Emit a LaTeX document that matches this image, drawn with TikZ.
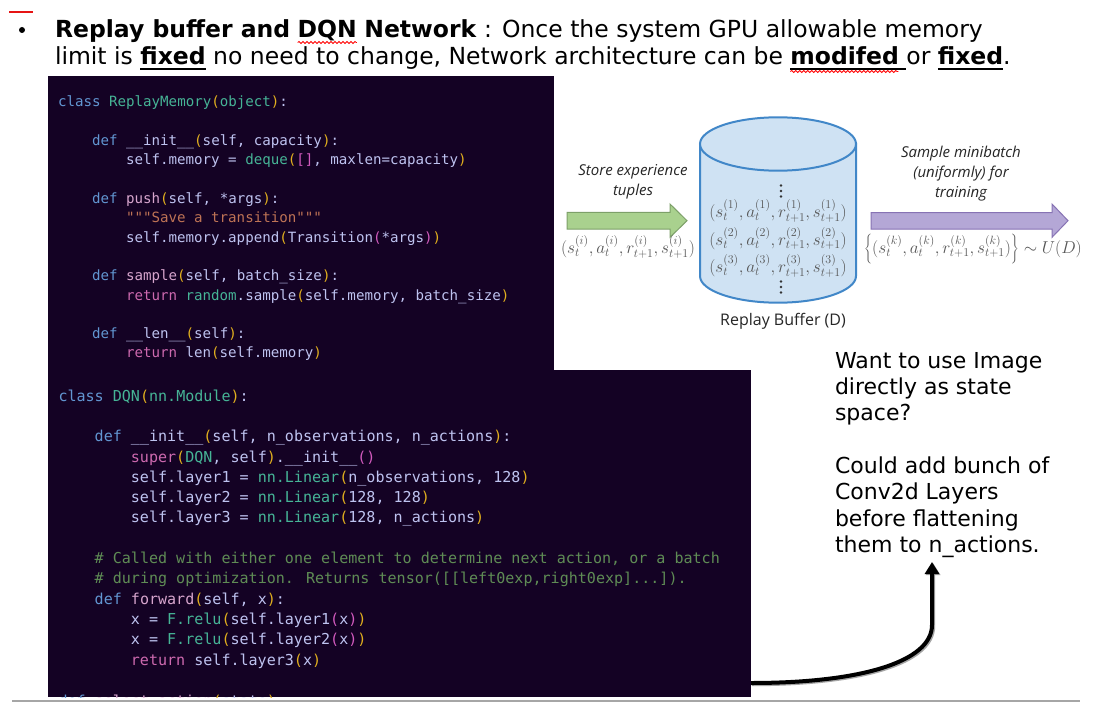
\documentclass[tikz,border=0pt]{standalone}
\usepackage{fontspec}
\setmainfont{DejaVu Sans}
\newfontfamily\codefont{DejaVu Sans Mono}
\newfontfamily\osfont{Open Sans}
\usetikzlibrary{decorations.pathmorphing,arrows.meta,calc}
\definecolor{codebg}{RGB}{20,2,36}
\definecolor{ckwc}{RGB}{98,150,210}
\definecolor{ctyc}{RGB}{70,180,150}
\definecolor{cpnc}{RGB}{225,175,30}
\definecolor{ctxc}{RGB}{190,195,240}
\definecolor{cfnc}{RGB}{215,165,205}
\definecolor{crtc}{RGB}{205,105,175}
\definecolor{cstc}{RGB}{190,115,85}
\definecolor{ccmc}{RGB}{95,140,85}
\definecolor{cbrc}{RGB}{210,90,190}
\definecolor{mathgray}{RGB}{85,85,85}
\definecolor{cylfill}{RGB}{207,226,243}
\definecolor{cylline}{RGB}{65,135,200}
\definecolor{grnfill}{RGB}{169,209,142}
\definecolor{grnline}{RGB}{125,160,105}
\definecolor{purfill}{RGB}{180,167,214}
\definecolor{purline}{RGB}{135,115,180}
\definecolor{slidered}{RGB}{230,20,20}
\newcommand\ckw[1]{\textcolor{ckwc}{#1}}
\newcommand\cty[1]{\textcolor{ctyc}{#1}}
\newcommand\cpn[1]{\textcolor{cpnc}{#1}}
\newcommand\cfn[1]{\textcolor{cfnc}{#1}}
\newcommand\crt[1]{\textcolor{crtc}{#1}}
\newcommand\cst[1]{\textcolor{cstc}{#1}}
\newcommand\ccm[1]{\textcolor{ccmc}{#1}}
\newcommand\cbr[1]{\textcolor{cbrc}{#1}}
\begin{document}
\begin{tikzpicture}[x=1bp,y=-1bp,
  hdr/.style={inner sep=0pt, outer sep=0pt, anchor=base west, font=\fontsize{23.5bp}{28bp}\selectfont},
  rtxt/.style={inner sep=0pt, outer sep=0pt, anchor=base west, font=\fontsize{22bp}{26bp}\selectfont},
  codeA/.style={inner sep=0pt, outer sep=0pt, anchor=base west, text=ctxc, font=\codefont\fontsize{14.15bp}{19bp}\selectfont},
  codeB/.style={inner sep=0pt, outer sep=0pt, anchor=base west, text=ctxc, font=\codefont\fontsize{15.05bp}{20bp}\selectfont},
  codebox/.style={fill=codebg, draw=none, inner sep=0pt, outer sep=0pt, anchor=north west},
  lbl/.style={font=\osfont\itshape\fontsize{15bp}{20bp}\selectfont, align=center, text=black!85, inner sep=0pt},
  tup/.style={text=mathgray, inner sep=0pt, font=\fontsize{16.8bp}{20bp}\selectfont},
  uline/.style={line width=2bp, black},
  spell/.style={draw=red, line width=0.8bp, decorate, decoration={snake, amplitude=1bp, segment length=4bp}},
  cyl/.style={fill=cylfill, draw=cylline, line width=2bp},
  bigarrow/.style={line width=4bp, black, -{Triangle[width=14bp,length=12bp]}},
  shadowarrow/.style={line width=4bp, black!35, -{Triangle[width=14bp,length=12bp]}},
]
\useasboundingbox (0,0) rectangle (1095,706);
\fill[white] (0,0) rectangle (1095,706);

% slide decorations
\draw[slidered, line width=2.5bp] (9,12) -- (33,12);
\node[circle, fill=black, inner sep=0pt, minimum size=6bp] (bul) at (22,30) {};
\draw[black!35, line width=1.5bp] (12,701) -- (1080,701);

% header line 1
\node[hdr] (h1a) at (55,38) {\textbf{Replay buffer and}\ \null};
\node[hdr] (h1b) at (h1a.base east) {\textbf{DQN}};
\node[hdr] (h1c) at (h1b.base east) {\null\ \textbf{Network} : Once the system GPU allowable memory};
\draw[spell] ([yshift=-4.5bp]h1b.base west) -- ([yshift=-4.5bp]h1b.base east);
% header line 2
\node[hdr] (h2a) at (55,65) {limit is\ \null};
\node[hdr] (h2b) at (h2a.base east) {\textbf{fixed}};
\node[hdr] (h2c) at (h2b.base east) {\null\ no need to change, Network architecture can be\ \null};
\node[hdr] (h2d) at (h2c.base east) {\textbf{modifed}\ \null};
\node[hdr] (h2e) at (h2d.base east) {or\ \null};
\node[hdr] (h2f) at (h2e.base east) {\textbf{fixed}};
\node[hdr] (h2g) at (h2f.base east) {.};
\draw[uline] ([yshift=-4.5bp]h2b.base west) -- ([yshift=-4.5bp]h2b.base east);
\draw[uline] ([yshift=-4.5bp]h2d.base west) -- ([yshift=-4.5bp]h2d.base east);
\draw[uline] ([yshift=-4.5bp]h2f.base west) -- ([yshift=-4.5bp]h2f.base east);
\draw[spell] ([yshift=-6.5bp]h2d.base west) -- ([yshift=-6.5bp,xshift=-8bp]h2d.base east);

% code boxes
\node[codebox, minimum width=506bp, minimum height=294bp] (rmbox) at (48,76) {};
\node[codebox, minimum width=703bp, minimum height=327bp] (dqnbox) at (48,370) {};

% ReplayMemory code
\node[codeA] (a0) at (58,107) {\ckw{class} \cty{ReplayMemory}\cpn{(}\cty{object}\cpn{)}:};
\node[codeA] (a2) at (92,145.6) {\ckw{def} \_\_init\_\_\cpn{(}self, capacity\cpn{)}:};
\node[codeA] (a3) at (126,164.9) {self.memory = \cty{deque}\cpn{(}\cbr{[]}, maxlen=capacity\cpn{)}};
\node[codeA] (a5) at (92,203.5) {\ckw{def} \cfn{push}\cpn{(}self, *args\cpn{)}:};
\node[codeA] (a6) at (126,222.8) {\cst{"""Save a transition"""}};
\node[codeA] (a7) at (126,242.1) {self.memory.append\cpn{(}Transition\cbr{(}*args\cbr{)}\cpn{)}};
\node[codeA] (a9) at (92,280.7) {\ckw{def} \cfn{sample}\cpn{(}self, batch\_size\cpn{)}:};
\node[codeA] (a10) at (126,300) {\crt{return} \cty{random}.sample\cpn{(}self.memory, batch\_size\cpn{)}};
\node[codeA] (a12) at (92,338.6) {\ckw{def} \_\_len\_\_\cpn{(}self\cpn{)}:};
\node[codeA] (a13) at (126,357.9) {\crt{return} len\cpn{(}self.memory\cpn{)}};

% DQN code
\node[codeB] (b0) at (58.5,401.5) {\ckw{class} \cty{DQN}\cpn{(}\cty{nn.Module}\cpn{)}:};
\node[codeB] (b2) at (94.7,441.7) {\ckw{def} \_\_init\_\_\cpn{(}self, n\_observations, n\_actions\cpn{)}:};
\node[codeB] (b3) at (130.9,462) {\crt{super}\cpn{(}\cty{DQN}, self\cpn{)}.\_\_init\_\_\cbr{()}};
\node[codeB] (b4) at (130.9,482.3) {self.layer1 = \cty{nn.Linear}\cpn{(}n\_observations, 128\cpn{)}};
\node[codeB] (b5) at (130.9,502.6) {self.layer2 = \cty{nn.Linear}\cpn{(}128, 128\cpn{)}};
\node[codeB] (b6) at (130.9,522.9) {self.layer3 = \cty{nn.Linear}\cpn{(}128, n\_actions\cpn{)}};
\node[codeB] (b8) at (94.7,563.5) {\ccm{\# Called with either one element to determine next action, or a batch}};
\node[codeB] (b9) at (94.7,583.8) {\ccm{\# during optimization. Returns tensor([[left0exp,right0exp]...]).}};
\node[codeB] (b10) at (94.7,604.1) {\ckw{def} \cfn{forward}\cpn{(}self, x\cpn{)}:};
\node[codeB] (b11) at (130.9,624.4) {x = \cty{F.relu}\cpn{(}self.layer1\cbr{(}x\cbr{)}\cpn{)}};
\node[codeB] (b12) at (130.9,644.7) {x = \cty{F.relu}\cpn{(}self.layer2\cbr{(}x\cbr{)}\cpn{)}};
\node[codeB] (b13) at (130.9,665) {\crt{return} self.layer3\cpn{(}x\cpn{)}};
\begin{scope}
\clip (48,370) rectangle (751,697);
\node[codeB] (b15) at (58.5,706.5) {\ckw{def} \cfn{select\_action}\cpn{(}state\cpn{)}:};
\end{scope}

% replay buffer cylinder
\path[cyl] (700,144) -- (700,276) arc[start angle=180, end angle=360, x radius=78bp, y radius=26.7bp] -- (856,144) -- cycle;
\path[cyl] (778,144) ellipse [x radius=78bp, y radius=26.7bp];
\foreach \d in {0,5.5,11} {
  \fill[black!80] (781,185.5+\d) circle (1.4bp);
  \fill[black!80] (781,281.5+\d) circle (1.4bp);
}
\node[tup] (row1) at (778,211) {$(s_t^{(1)},a_t^{(1)},r_{t+1}^{(1)},s_{t+1}^{(1)})$};
\node[tup] (row2) at (778,238.5) {$(s_t^{(2)},a_t^{(2)},r_{t+1}^{(2)},s_{t+1}^{(2)})$};
\node[tup] (row3) at (778,266) {$(s_t^{(3)},a_t^{(3)},r_{t+1}^{(3)},s_{t+1}^{(3)})$};
\node[font=\osfont\fontsize{16bp}{20bp}\selectfont, text=black!85, inner sep=0pt] (rbuf) at (783,321.7) {Replay Buffer (D)};

% block arrows
\path[fill=grnfill, draw=grnline, line width=1bp] (567,212.3) -- (670,212.3) -- (670,204) -- (687,220.7) -- (670,237.3) -- (670,229) -- (567,229) -- cycle;
\path[fill=purfill, draw=purline, line width=1bp] (871,212.7) -- (1052,212.7) -- (1052,204) -- (1068,220.7) -- (1052,237.3) -- (1052,229) -- (871,229) -- cycle;
\node[lbl] (store) at (633,181.7) {Store experience\\tuples};
\node[lbl] (samp) at (961,173.5) {Sample minibatch\\(uniformly) for\\training};
\node[tup] (tupi) at (628,247) {$(s_t^{(i)},a_t^{(i)},r_{t+1}^{(i)},s_{t+1}^{(i)})$};
\node[tup] (tupk) at (973,249) {$\left\{(s_t^{(k)},a_t^{(k)},r_{t+1}^{(k)},s_{t+1}^{(k)})\right\}\sim U(D)$};

% right-hand note
\node[rtxt] (r1) at (835,368.3) {Want to use Image};
\node[rtxt] (r2) at (835,394.6) {directly as state};
\node[rtxt] (r3) at (835,420.9) {space?};
\node[rtxt] (r4) at (835,473.5) {Could add bunch of};
\node[rtxt] (r5) at (835,499.8) {Conv2d Layers};
\node[rtxt] (r6) at (835,526.1) {before flattening};
\node[rtxt] (r7) at (835,552.4) {them to n\_actions.};

% curved arrow
\coordinate (arrS) at ($(dqnbox.south east)+(0,-14)$);
\coordinate (arrE) at (932,562);
\draw[shadowarrow, transform canvas={xshift=1.2bp,yshift=-1.2bp}] (arrS) .. controls (860,683) and (932,662) .. (932,625) -- (arrE);
\draw[bigarrow] (arrS) .. controls (860,683) and (932,662) .. (932,625) -- (arrE);
\end{tikzpicture}
\end{document}
